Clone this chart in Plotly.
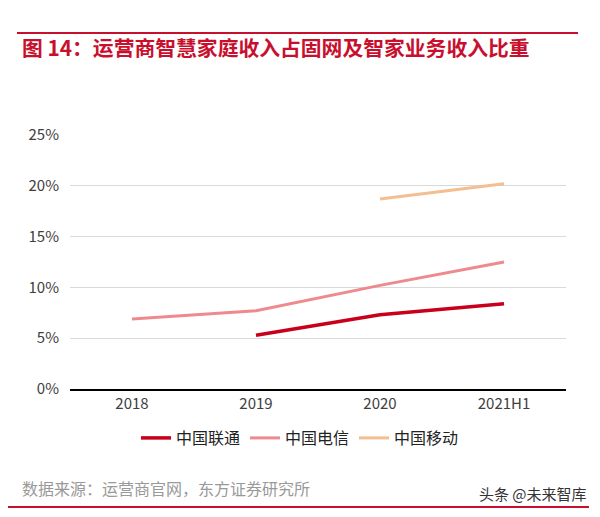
import plotly.graph_objects as go

# categories and series (share of smart-home revenue, %)
years = ['2018', '2019', '2020', '2021H1']
unicom = [None, 5.3, 7.3, 8.4]
telecom = [6.9, 7.7, 10.2, 12.5]
mobile = [None, None, 18.7, 20.2]
y_ticks = [0, 5, 10, 15, 20, 25]
y_labels = ['0%', '5%', '10%', '15%', '20%', '25%']

font_cn = 'Noto Sans CJK SC'

fig = go.Figure()
fig.add_trace(go.Scatter(x=years, y=unicom, name='中国联通', mode='lines',
                         line=dict(color='#C8001A', width=3.5)))
fig.add_trace(go.Scatter(x=years, y=telecom, name='中国电信', mode='lines',
                         line=dict(color='#EE8A8E', width=3)))
fig.add_trace(go.Scatter(x=years, y=mobile, name='中国移动', mode='lines',
                         line=dict(color='#F3BE90', width=3)))

# plot area in the reference: x 70..566 px, y 135..389 px
# (page body has an 8px margin, so margins are shifted by 8)
def px_y(py):
    return (389 - py) / 254

def px_x(px):
    return (px - 70) / 496

fig.update_layout(
    width=600, height=517,
    margin=dict(l=62, r=42, t=127, b=136),
    paper_bgcolor='white', plot_bgcolor='white',
    font=dict(family=font_cn, color='#404040', size=15),
    showlegend=True,
    legend=dict(orientation='h', x=px_x(300), xanchor='center', y=px_y(438), yanchor='middle',
                font=dict(size=16, color='#222222'), itemwidth=30, tracegroupgap=0),
    xaxis=dict(type='category', showgrid=False, showline=True, linecolor='#000000', linewidth=2,
               ticks='', tickfont=dict(size=15, color='#404040'), range=[-0.5, 3.5]),
    yaxis=dict(range=[0, 25], tickvals=y_ticks, ticktext=y_labels, showgrid=True,
               gridcolor='#D9D9D9', gridwidth=1, zeroline=False, showline=False,
               tickfont=dict(size=15, color='#404040'), ticklabelstandoff=10),
)

# red rules top and bottom
fig.add_shape(type='line', xref='paper', yref='paper', x0=px_x(17), x1=px_x(578),
              y0=px_y(33), y1=px_y(33), line=dict(color='#C8102E', width=2))
fig.add_shape(type='line', xref='paper', yref='paper', x0=px_x(8), x1=px_x(589),
              y0=px_y(507), y1=px_y(507), line=dict(color='#C8102E', width=2))

fig.add_annotation(text='<b>图 14：运营商智慧家庭收入占固网及智家业务收入比重</b>',
                   xref='paper', yref='paper', x=px_x(20), y=px_y(47), xanchor='left',
                   yanchor='middle', showarrow=False,
                   font=dict(family=font_cn, size=20.8, color='#C8102E'))
fig.add_annotation(text='数据来源：运营商官网，东方证券研究所',
                   xref='paper', yref='paper', x=px_x(20), y=px_y(488), xanchor='left',
                   yanchor='middle', showarrow=False,
                   font=dict(family=font_cn, size=16, color='#999999'))
fig.add_annotation(text='头条 @未来智库',
                   xref='paper', yref='paper', x=px_x(589), y=px_y(493), xanchor='right',
                   yanchor='middle', showarrow=False,
                   font=dict(family=font_cn, size=15, color='#333333'))

fig.write_html('out.html')
